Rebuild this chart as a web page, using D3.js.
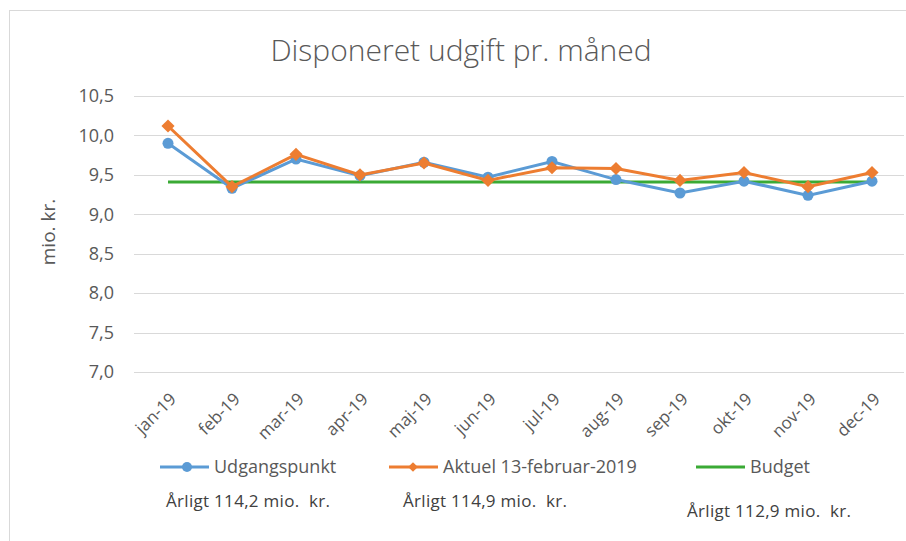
<!DOCTYPE html>
<html>
<head>
<meta charset="utf-8">
<script src="https://cdn.jsdelivr.net/npm/d3@7"></script>
<style>
  body { margin: 0; background: #fff; }
  text { font-family: "Open Sans", "DejaVu Sans", sans-serif; }
</style>
</head>
<body>
<svg id="chart" width="906" height="541"></svg>
<script>
// months on the x axis
var months = ['jan-19', 'feb-19', 'mar-19', 'apr-19', 'maj-19', 'jun-19',
              'jul-19', 'aug-19', 'sep-19', 'okt-19', 'nov-19', 'dec-19'];
// mio. kr. per month
var udgangspunkt = [9.90, 9.33, 9.70, 9.49, 9.66, 9.47, 9.67, 9.44, 9.27, 9.42, 9.24, 9.42];
var aktuel       = [10.12, 9.35, 9.76, 9.50, 9.65, 9.43, 9.59, 9.58, 9.43, 9.53, 9.35, 9.53];
var budget       = [9.41, 9.41, 9.41, 9.41, 9.41, 9.41, 9.41, 9.41, 9.41, 9.41, 9.41, 9.41];
var yTicks = [7.0, 7.5, 8.0, 8.5, 9.0, 9.5, 10.0, 10.5];
var seriesNames = ['Udgangspunkt', 'Aktuel 13-februar-2019', 'Budget'];
var yearly = ['Årligt 114,2 mio.  kr.', 'Årligt 114,9 mio.  kr.', 'Årligt 112,9 mio.  kr.'];

var blue = '#5b9bd5', orange = '#ed7d31', green = '#3aaa35';
var grey = '#595959';

var svg = d3.select('#chart');

// outer chart frame
svg.append('rect')
  .attr('x', 9.5).attr('y', 10.5)
  .attr('width', 920).attr('height', 560)
  .attr('fill', '#fff')
  .attr('stroke', '#d9d9d9');

var x = d3.scaleBand().domain(months).range([136, 904]);
var y = d3.scaleLinear().domain([7, 10.5]).range([372, 96]);
var fmt = function(d) { return d3.format('.1f')(d).replace('.', ','); };

// gridlines
svg.append('g').selectAll('line')
  .data(yTicks)
  .enter().append('line')
  .attr('x1', 134).attr('x2', 904)
  .attr('y1', function(d) { return Math.round(y(d)) + 0.5; })
  .attr('y2', function(d) { return Math.round(y(d)) + 0.5; })
  .attr('stroke', '#d9d9d9')
  .attr('stroke-width', 1);

// y axis labels
var yAxis = svg.append('g')
  .attr('transform', 'translate(124,0)')
  .call(d3.axisLeft(y).tickValues(yTicks).tickFormat(fmt).tickSize(0).tickPadding(10));
yAxis.select('.domain').remove();
yAxis.selectAll('text')
  .attr('fill', grey)
  .style('font-size', '18px')
  .style('font-family', '"Open Sans", sans-serif');

// x axis labels
var xAxis = svg.append('g')
  .attr('transform', 'translate(0,372)')
  .call(d3.axisBottom(x).tickSize(0).tickPadding(0));
xAxis.select('.domain').remove();
xAxis.selectAll('text')
  .attr('fill', grey)
  .style('font-size', '17px')
  .style('font-family', '"Open Sans", sans-serif')
  .attr('text-anchor', 'end')
  .attr('dy', '0.35em')
  .attr('transform', 'translate(5,24) rotate(-45)');

// titles
svg.append('text')
  .attr('x', 461).attr('y', 61)
  .attr('text-anchor', 'middle')
  .attr('fill', grey)
  .style('font-size', '30px')
  .style('font-family', '"Open Sans", sans-serif')
  .style('font-weight', 300)
  .text('Disponeret udgift pr. måned');

svg.append('text')
  .attr('transform', 'translate(48,232) rotate(-90)')
  .attr('text-anchor', 'middle')
  .attr('dy', '0.35em')
  .attr('fill', grey)
  .style('font-size', '19px')
  .text('mio. kr.');

var cx = function(d, i) { return x(months[i]) + x.bandwidth() / 2; };
var line = d3.line()
  .x(function(d, i) { return cx(d, i); })
  .y(function(d) { return y(d); });

svg.append('path').datum(budget)
  .attr('d', line).attr('fill', 'none')
  .attr('stroke', green).attr('stroke-width', 3);

svg.append('path').datum(udgangspunkt)
  .attr('d', line).attr('fill', 'none')
  .attr('stroke', blue).attr('stroke-width', 3);
svg.append('g').selectAll('circle')
  .data(udgangspunkt)
  .enter().append('circle')
  .attr('cx', cx).attr('cy', function(d) { return y(d); })
  .attr('r', 5.5).attr('fill', blue);

svg.append('path').datum(aktuel)
  .attr('d', line).attr('fill', 'none')
  .attr('stroke', orange).attr('stroke-width', 3);
var diamond = d3.symbol().type(d3.symbolDiamond2).size(110);
svg.append('g').selectAll('path')
  .data(aktuel)
  .enter().append('path')
  .attr('d', diamond)
  .attr('transform', function(d, i) { return 'translate(' + cx(d, i) + ',' + y(d) + ')'; })
  .attr('fill', orange);

// legend
var legendX = [160, 389, 696];
var legendColors = [blue, orange, green];
var lg = svg.append('g').selectAll('g')
  .data(seriesNames)
  .enter().append('g')
  .attr('transform', function(d, i) { return 'translate(' + legendX[i] + ',467)'; });
lg.append('line')
  .attr('x1', 0).attr('x2', 49)
  .attr('stroke', function(d, i) { return legendColors[i]; })
  .attr('stroke-width', 3);
lg.each(function(d, i) {
  var g = d3.select(this);
  if (i == 0) g.append('circle').attr('cx', 27).attr('r', 5).attr('fill', blue);
  if (i == 1) g.append('path').attr('d', d3.symbol().type(d3.symbolDiamond2).size(60)).attr('transform', 'translate(24,0)').attr('fill', orange);
});
lg.append('text')
  .attr('x', 54).attr('dy', '0.35em')
  .attr('fill', grey)
  .style('font-size', '18px')
  .text(function(d) { return d; });

// yearly totals under the legend
var noteX = [166, 403, 687];
var noteY = [501, 501, 511];
svg.append('g').selectAll('text')
  .data(yearly)
  .enter().append('text')
  .attr('x', function(d, i) { return noteX[i]; })
  .attr('y', function(d, i) { return noteY[i]; })
  .attr('dy', '0.35em')
  .attr('fill', '#404040')
  .attr('xml:space', 'preserve')
  .style('white-space', 'pre')
  .style('font-size', '17px')
  .style('letter-spacing', '0.3px')
  .text(function(d) { return d; });
</script>
</body>
</html>
